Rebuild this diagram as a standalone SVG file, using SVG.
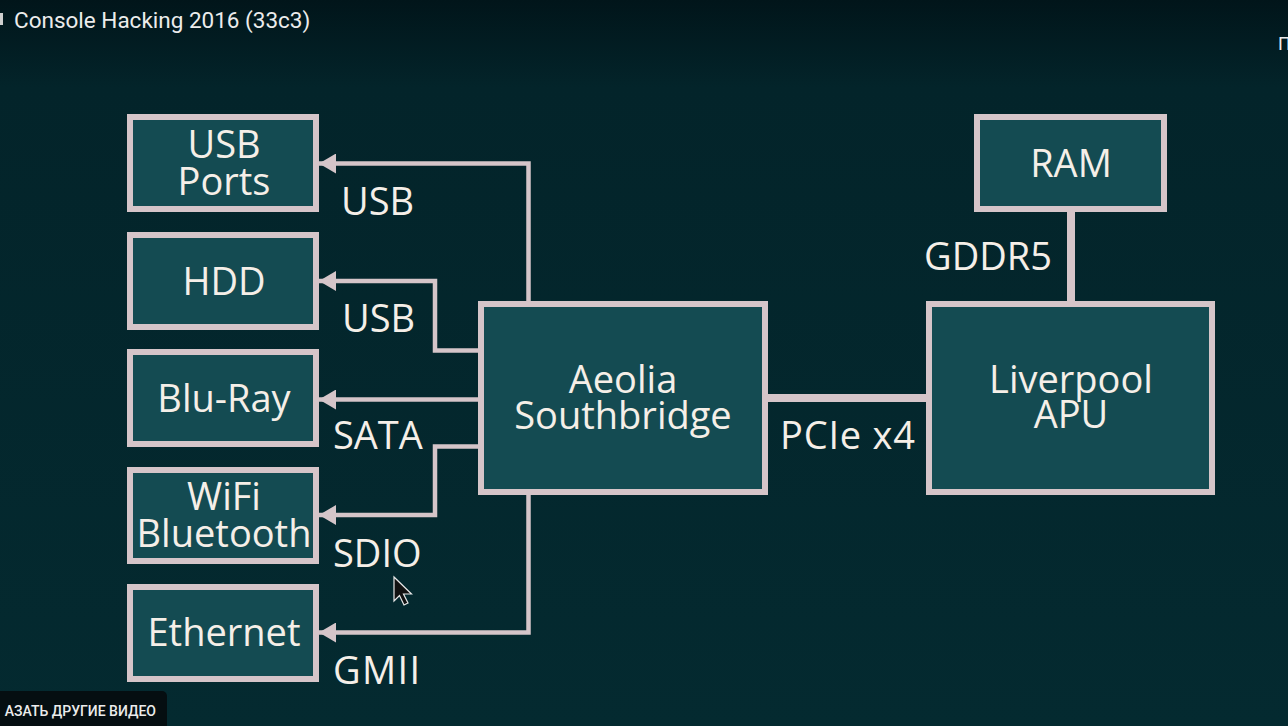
<svg xmlns="http://www.w3.org/2000/svg" width="1288" height="726" viewBox="0 0 1288 726">
  <defs>
    <linearGradient id="bg" x1="0" y1="0" x2="0" y2="1">
      <stop offset="0" stop-color="#01151a"/>
      <stop offset="0.12" stop-color="#03242a"/>
      <stop offset="1" stop-color="#042a30"/>
    </linearGradient>
    <marker id="arrow" viewBox="0 0 17 20" refX="17" refY="10" markerWidth="17" markerHeight="20" markerUnits="userSpaceOnUse" orient="auto">
      <path d="M0,0 L17,10 L0,20 Z" fill="#d5c5c9"/>
    </marker>
    <style>
      .box { fill: #144b52; stroke: #d5c5c9; stroke-width: 6; }
      .lbl { font-family: "Open Sans", "Noto Sans", "DejaVu Sans", sans-serif; font-size: 38px; fill: #f5efe8; }
      .mid { text-anchor: middle; }
      .conn { fill: none; stroke: #d5c5c9; stroke-width: 4.5; }
      .bus { fill: none; stroke: #d5c5c9; stroke-width: 8; }
      .ui { font-family: Roboto, "Liberation Sans", sans-serif; fill: #ececec; }
    </style>
  </defs>
  <rect x="0" y="0" width="1288" height="726" fill="url(#bg)"/>

  <!-- video UI overlay -->
  <rect x="0" y="13" width="3" height="12" fill="#cfcfcf"/>
  <text class="ui" x="14" y="28" font-size="22.5">Console Hacking 2016 (33c3)</text>
  <text class="ui" x="1278" y="50" font-size="18">П</text>

  <g id="connectors">
    <path class="conn" d="M528.5,301 V163.5 H319" marker-end="url(#arrow)"/>
    <path class="conn" d="M478,350.5 H435 V281 H319" marker-end="url(#arrow)"/>
    <path class="conn" d="M478,399.5 H319" marker-end="url(#arrow)"/>
    <path class="conn" d="M478,446.5 H435 V515 H319" marker-end="url(#arrow)"/>
    <path class="conn" d="M528.5,495 V632.5 H319" marker-end="url(#arrow)"/>
    <path class="bus" d="M765,398 H930"/>
    <path class="bus" d="M1071,209 V304"/>
    <text class="lbl" x="341" y="215">USB</text>
    <text class="lbl" x="342" y="332">USB</text>
    <text class="lbl" x="333" y="449">SATA</text>
    <text class="lbl" x="333" y="567">SDIO</text>
    <text class="lbl" x="333" y="684" textLength="87" lengthAdjust="spacing">GMII</text>
    <text class="lbl" x="780" y="449" textLength="135" lengthAdjust="spacing">PCIe x4</text>
    <text class="lbl" x="924" y="270">GDDR5</text>
  </g>

  <g id="usb-ports">
    <rect class="box" x="130" y="117" width="186" height="92"/>
    <text class="lbl mid" x="224" y="158">USB</text>
    <text class="lbl mid" x="224" y="195">Ports</text>
  </g>
  <g id="hdd">
    <rect class="box" x="130" y="235" width="186" height="92"/>
    <text class="lbl mid" x="224" y="295">HDD</text>
  </g>
  <g id="bluray">
    <rect class="box" x="130" y="352" width="186" height="92"/>
    <text class="lbl mid" x="224" y="412">Blu-Ray</text>
  </g>
  <g id="wifi-bluetooth">
    <rect class="box" x="130" y="470" width="186" height="91"/>
    <text class="lbl mid" x="224" y="510">WiFi</text>
    <text class="lbl mid" x="224" y="547">Bluetooth</text>
  </g>
  <g id="ethernet">
    <rect class="box" x="130" y="587" width="186" height="92"/>
    <text class="lbl mid" x="224" y="646">Ethernet</text>
  </g>
  <g id="southbridge">
    <rect class="box" x="481" y="304" width="284" height="188"/>
    <text class="lbl mid" x="623" y="393">Aeolia</text>
    <text class="lbl mid" x="623" y="429">Southbridge</text>
  </g>
  <g id="apu">
    <rect class="box" x="929" y="304" width="283" height="188"/>
    <text class="lbl mid" x="1071" y="393">Liverpool</text>
    <text class="lbl mid" x="1071" y="428">APU</text>
  </g>
  <g id="ram">
    <rect class="box" x="977" y="117" width="187" height="92"/>
    <text class="lbl mid" x="1071" y="177">RAM</text>
  </g>

  <!-- mouse cursor -->
  <path d="M394,577 L394,601 L399.5,595.5 L404,605 L408,603 L403.5,594 L411.5,594 Z" fill="#111" stroke="#e8e8e8" stroke-width="1.2"/>

  <!-- bottom button overlay -->
  <rect x="-8" y="691" width="175" height="42" rx="5" fill="#050e11"/>
  <text class="ui" x="156" y="716" font-size="14" font-weight="500" text-anchor="end">АЗАТЬ ДРУГИЕ ВИДЕО</text>
</svg>
